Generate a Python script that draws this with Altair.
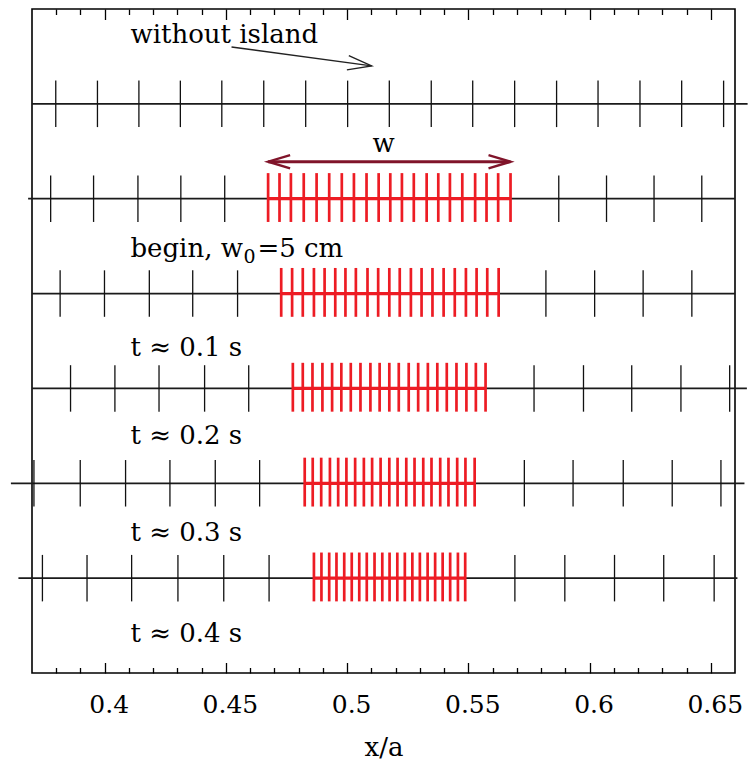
import altair as alt
import pandas as pd

# ---------------- data ----------------
x_domain = [0.37, 0.66]
y_domain = [0, 7]

levels = [6, 5, 4, 3, 2, 1]          # row baselines, top to bottom

row_black = [
    [0.3798, 0.3970, 0.4141, 0.4312, 0.4483, 0.4656, 0.4829, 0.5002, 0.5174,
     0.5347, 0.5518, 0.5691, 0.5864, 0.6035, 0.6208, 0.6380, 0.6553],
    [0.3777, 0.3954, 0.4137, 0.4314, 0.4495, 0.5873, 0.6070, 0.6266, 0.6463],
    [0.3816, 0.3999, 0.4184, 0.4363, 0.4548, 0.5820, 0.6021, 0.6221, 0.6422],
    [0.3859, 0.4042, 0.4224, 0.4412, 0.4594, 0.5771, 0.5975, 0.6174, 0.6377, 0.6578],
    [0.3708, 0.3899, 0.4086, 0.4269, 0.4456, 0.4639, 0.5731, 0.5932, 0.6139, 0.6341, 0.6542],
    [0.3743, 0.3927, 0.4111, 0.4302, 0.4491, 0.4678, 0.5692, 0.5898, 0.6103, 0.6306, 0.6514],
]

row_red = [
    [],
    [0.4674, 0.4721, 0.4768, 0.4821, 0.4874, 0.4926, 0.4978, 0.5028, 0.5080, 0.5130, 0.5178,
     0.5226, 0.5275, 0.5328, 0.5376, 0.5424, 0.5475, 0.5528, 0.5575, 0.5623, 0.5674],
    [0.4728, 0.4773, 0.4817, 0.4863, 0.4907, 0.4951, 0.4993, 0.5036, 0.5084, 0.5128, 0.5174,
     0.5217, 0.5263, 0.5307, 0.5352, 0.5398, 0.5444, 0.5490, 0.5534, 0.5578, 0.5625],
    [0.4776, 0.4817, 0.4857, 0.4898, 0.4938, 0.4976, 0.5015, 0.5055, 0.5096, 0.5134, 0.5174,
     0.5213, 0.5254, 0.5293, 0.5333, 0.5372, 0.5411, 0.5451, 0.5492, 0.5531, 0.5571],
    [0.4825, 0.4858, 0.4893, 0.4929, 0.4963, 0.4997, 0.5033, 0.5069, 0.5103, 0.5138, 0.5174,
     0.5208, 0.5244, 0.5278, 0.5314, 0.5348, 0.5384, 0.5418, 0.5454, 0.5488, 0.5526],
    [0.4863, 0.4894, 0.4926, 0.4956, 0.4988, 0.5019, 0.5050, 0.5081, 0.5113, 0.5145, 0.5175,
     0.5207, 0.5238, 0.5269, 0.5300, 0.5332, 0.5363, 0.5394, 0.5425, 0.5457, 0.5487],
]

line_start = [0.3700, 0.3684, 0.3700, 0.3700, 0.3613, 0.3644]
line_end = [0.6652, 0.6600, 0.6600, 0.6649, 0.6639, 0.6610]

row_labels = ["without island", "begin, w", "t \u2248 0.1 s",
              "t \u2248 0.2 s", "t \u2248 0.3 s", "t \u2248 0.4 s"]
label_x = [0.4106, 0.4106, 0.4106, 0.4106, 0.4106, 0.4106]
label_y = [6.64, 4.39, 3.34, 2.41, 1.39, 0.33]

# "begin, w₀=5 cm": subscript and the rest of the label
sub_text = ["0"]
rest_text = ["=5 cm"]
sub_row = 1                       # index into the label lists

w_label = ["w"]
w_label_x = [0.515]
w_label_y = [5.49]
w_arrow_y = [5.39]

island_arrow_x = [0.4523, 0.5101]
island_arrow_y = [6.60, 6.40]

major_ticks = [0.40, 0.45, 0.50, 0.55, 0.60, 0.65]
minor_ticks = [0.38, 0.39, 0.41, 0.42, 0.43, 0.44, 0.46, 0.47, 0.48, 0.49,
               0.51, 0.52, 0.53, 0.54, 0.56, 0.57, 0.58, 0.59, 0.61, 0.62,
               0.63, 0.64]

# ---------------- styles ----------------
W, H = 703, 664
FONT = "DejaVu Serif"
RED = "#ed1c24"
MAROON = "#80142a"
TICK_DN = 0.245
TICK_UP_BLACK = 0.245
TICK_UP_RED = 0.27
CHEVRON = "M-1,-0.3L0,0L-1,0.3"

xs = alt.Scale(domain=x_domain, nice=False, zero=False)
ys = alt.Scale(domain=y_domain, nice=False, zero=False)

# ---------------- tables ----------------
black_df = pd.DataFrame([{"x": x, "level": lv} for lv, row in zip(levels, row_black) for x in row])
red_df = pd.DataFrame([{"x": x, "level": lv} for lv, row in zip(levels, row_red) for x in row])
base_df = pd.DataFrame({"x0": line_start, "x1": line_end, "level": levels})
seg_df = pd.DataFrame([{"x0": min(r), "x1": max(r), "level": lv}
                       for lv, r in zip(levels, row_red) if r])
lab_df = pd.DataFrame({"x": label_x, "y": label_y, "text": row_labels})
sub_df = pd.DataFrame({"x": [label_x[sub_row]], "y": [label_y[sub_row]], "text": sub_text})
rest_df = pd.DataFrame({"x": [label_x[sub_row]], "y": [label_y[sub_row]], "text": rest_text})
w_df = pd.DataFrame({"x": w_label_x, "y": w_label_y, "text": w_label})
row2 = row_red[1]
warrow_df = pd.DataFrame({"x0": [min(row2)], "x1": [max(row2)], "y": w_arrow_y})
whead_df = pd.DataFrame({"x": [min(row2), max(row2)], "y": w_arrow_y * 2, "ang": [180, 0]})
iarrow_df = pd.DataFrame({"x0": [island_arrow_x[0]], "x1": [island_arrow_x[1]],
                          "y0": [island_arrow_y[0]], "y1": [island_arrow_y[1]]})
ihead_df = pd.DataFrame({"x": [island_arrow_x[1]], "y": [island_arrow_y[1]]})
major_df = pd.DataFrame({"x": major_ticks})
minor_df = pd.DataFrame({"x": minor_ticks})

# ---------------- axes ----------------
label_axis = alt.Axis(orient="bottom", values=major_ticks, format="~g", ticks=False,
                      domain=False, grid=False, labelFont=FONT, labelFontSize=25,
                      labelColor="black", labelPadding=19, labelOffset=4, title="x/a",
                      titleFont=FONT, titleFontSize=26, titleFontWeight="normal",
                      titleColor="black", titlePadding=17)


def tick_axis(orient, vals, size):
    return alt.Axis(orient=orient, offset=-H, values=vals, labels=False, ticks=True,
                    tickSize=size, tickWidth=1.3, tickColor="black", domain=False,
                    grid=False, title="")


# ---------------- layers ----------------
baselines = alt.Chart(base_df).mark_rule(color="#1a1a1a", strokeWidth=1.7).encode(
    x=alt.X("x0:Q", scale=xs, axis=label_axis),
    x2="x1:Q",
    y=alt.Y("level:Q", scale=ys, axis=None),
)

black_ticks = alt.Chart(black_df).transform_calculate(
    lo=f"datum.level - {TICK_DN}", hi=f"datum.level + {TICK_UP_BLACK}"
).mark_rule(color="#111111", strokeWidth=1.3).encode(
    x=alt.X("x:Q", scale=xs, axis=None),
    y=alt.Y("lo:Q", scale=ys, axis=None),
    y2="hi:Q",
)

red_seg = alt.Chart(seg_df).mark_rule(color=RED, strokeWidth=3.2).encode(
    x=alt.X("x0:Q", scale=xs, axis=None),
    x2="x1:Q",
    y=alt.Y("level:Q", scale=ys, axis=None),
)

red_ticks = alt.Chart(red_df).transform_calculate(
    lo=f"datum.level - {TICK_DN}", hi=f"datum.level + {TICK_UP_RED}"
).mark_rule(color=RED, strokeWidth=2.7).encode(
    x=alt.X("x:Q", scale=xs, axis=None),
    y=alt.Y("lo:Q", scale=ys, axis=None),
    y2="hi:Q",
)

labels = alt.Chart(lab_df).mark_text(align="left", baseline="alphabetic", font=FONT,
                                     fontSize=26, color="black").encode(
    x=alt.X("x:Q", scale=xs, axis=None),
    y=alt.Y("y:Q", scale=ys, axis=None),
    text="text:N",
)

sub_label = alt.Chart(sub_df).mark_text(align="left", baseline="alphabetic", font=FONT,
                                        fontSize=19, color="black", dx=113, dy=6).encode(
    x=alt.X("x:Q", scale=xs, axis=None),
    y=alt.Y("y:Q", scale=ys, axis=None),
    text="text:N",
)

rest_label = alt.Chart(rest_df).mark_text(align="left", baseline="alphabetic", font=FONT,
                                          fontSize=26, color="black", dx=127).encode(
    x=alt.X("x:Q", scale=xs, axis=None),
    y=alt.Y("y:Q", scale=ys, axis=None),
    text="text:N",
)

w_text = alt.Chart(w_df).mark_text(align="center", baseline="alphabetic", font=FONT,
                                   fontSize=26, color="black").encode(
    x=alt.X("x:Q", scale=xs, axis=None),
    y=alt.Y("y:Q", scale=ys, axis=None),
    text="text:N",
)

w_line = alt.Chart(warrow_df).mark_rule(color=MAROON, strokeWidth=3).encode(
    x=alt.X("x0:Q", scale=xs, axis=None),
    x2="x1:Q",
    y=alt.Y("y:Q", scale=ys, axis=None),
)

w_heads = alt.Chart(whead_df).mark_point(shape=CHEVRON, filled=False, size=1936,
                                         strokeWidth=2.4, color=MAROON, opacity=1).encode(
    x=alt.X("x:Q", scale=xs, axis=None),
    y=alt.Y("y:Q", scale=ys, axis=None),
    angle=alt.Angle("ang:Q", scale=None),
)

i_line = alt.Chart(iarrow_df).mark_rule(color="#222222", strokeWidth=1.4).encode(
    x=alt.X("x0:Q", scale=xs, axis=None),
    x2="x1:Q",
    y=alt.Y("y0:Q", scale=ys, axis=None),
    y2="y1:Q",
)

i_head = alt.Chart(ihead_df).mark_point(shape=CHEVRON, filled=False, size=2304,
                                        strokeWidth=1.4, color="#222222", opacity=1,
                                        angle=7.7).encode(
    x=alt.X("x:Q", scale=xs, axis=None),
    y=alt.Y("y:Q", scale=ys, axis=None),
)

# frame ticks (inward) via offset axes
ax_b_major = alt.Chart(major_df).mark_rule(opacity=0).encode(
    x=alt.X("x:Q", scale=xs, axis=tick_axis("top", major_ticks, 10.5)))
ax_b_minor = alt.Chart(minor_df).mark_rule(opacity=0).encode(
    x=alt.X("x:Q", scale=xs, axis=tick_axis("top", minor_ticks, 5.5)))
ax_t_major = alt.Chart(major_df).mark_rule(opacity=0).encode(
    x=alt.X("x:Q", scale=xs, axis=tick_axis("bottom", major_ticks, 10.5)))
ax_t_minor = alt.Chart(minor_df).mark_rule(opacity=0).encode(
    x=alt.X("x:Q", scale=xs, axis=tick_axis("bottom", minor_ticks, 5.5)))

chart = alt.layer(
    baselines, black_ticks, red_seg, red_ticks, labels, sub_label, rest_label,
    w_line, w_heads, w_text, i_line, i_head,
    ax_b_major, ax_b_minor, ax_t_major, ax_t_minor,
).resolve_axis(x="independent").properties(
    width=W, height=H,
    autosize=alt.AutoSizeParams(type="none"),
    padding={"left": 32, "top": 9, "right": 13, "bottom": 92},
    background="white",
).configure_view(stroke="black", strokeWidth=1.6)

chart.save("out.html", embed_options={"renderer": "svg", "actions": False})
